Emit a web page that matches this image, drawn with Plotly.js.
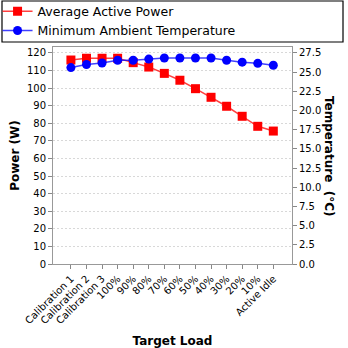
<!DOCTYPE html>
<html>
<head>
<meta charset="utf-8">
<script src="https://cdn.plot.ly/plotly-3.0.1.min.js"></script>
<style>html,body{margin:0;padding:0;background:#fff;}#chart{width:348px;height:348px;}</style>
</head>
<body>
<div id="chart"></div>
<script>
const categories = ["Calibration 1","Calibration 2","Calibration 3","100%","90%","80%","70%","60%","50%","40%","30%","20%","10%","Active Idle"];
const averageActivePower = [116.0,117.0,117.0,117.0,114.5,112.0,108.4,104.5,99.7,94.8,89.7,84.0,78.3,75.6];
const minimumAmbientTemperature = [25.6,26.0,26.2,26.55,26.55,26.7,26.85,26.85,26.85,26.85,26.55,26.3,26.15,25.9];

const font = "DejaVu Sans, sans-serif";
const traces = [
  {x: categories, y: averageActivePower, name: "Average Active Power", type: "scatter", mode: "lines+markers",
   line: {color: "rgba(255,0,0,0.75)", width: 1.5}, marker: {symbol: "square", size: 9, color: "#ff0000"}, yaxis: "y"},
  {x: categories, y: minimumAmbientTemperature, name: "Minimum Ambient Temperature", type: "scatter", mode: "lines+markers",
   line: {color: "rgba(0,0,255,0.75)", width: 1.5}, marker: {symbol: "circle", size: 9, color: "#0000ff"}, yaxis: "y2"}
];

const layout = {
  width: 348, height: 348,
  margin: {l: 53, r: 56, t: 47, b: 84, autoexpand: false},
  paper_bgcolor: "#fff", plot_bgcolor: "#fff",
  font: {family: font, size: 10, color: "#000"},
  showlegend: true,
  legend: {x: -0.232, xanchor: "left", y: 1.232, yanchor: "top", orientation: "v",
           font: {family: font, size: 12.5, color: "#000"}, bgcolor: "rgba(0,0,0,0)", borderwidth: 0,
           tracegroupgap: 0, itemwidth: 30},
  xaxis: {type: "category", range: [-1.15, 14.2], tickangle: -45, ticks: "outside", ticklen: 4, tickcolor: "#888",
          showline: true, linecolor: "#999", mirror: true, showgrid: false, zeroline: false, automargin: false,
          tickfont: {family: font, size: 10},
          title: {text: "Target Load", font: {family: font, size: 12, weight: "bold"}, standoff: 15}},
  yaxis: {range: [0, 123.4], dtick: 10, ticks: "outside", ticklen: 4, tickcolor: "#888", automargin: false,
          showline: true, linecolor: "#999", showgrid: true, gridcolor: "#d8d8d8", griddash: "2px,2px", zeroline: false,
          tickfont: {family: font, size: 10},
          title: {text: "Power (W)", font: {family: font, size: 12, weight: "bold"}, standoff: 4}},
  yaxis2: {overlaying: "y", side: "right", range: [0, 28.28], dtick: 2.5, tickformat: ".1f", ticks: "outside", ticklen: 4, tickcolor: "#888",
           showline: true, linecolor: "#999", showgrid: false, zeroline: false, automargin: false,
           tickfont: {family: font, size: 10}},
  shapes: [{type: "rect", xref: "paper", yref: "paper", x0: -0.2134, x1: 1.2134, y0: 1.023, y1: 1.212,
            line: {color: "#000", width: 1.2}, fillcolor: "rgba(0,0,0,0)"}],
  annotations: [{text: "Temperature\u00a0\u00a0(°C)", xref: "paper", yref: "paper", x: 1.157, y: 0.5, showarrow: false,
                 textangle: 90, font: {family: font, size: 12, weight: "bold"}, xanchor: "center", yanchor: "middle"}]
};

Plotly.newPlot("chart", traces, layout, {displayModeBar: false, staticPlot: true});
</script>
</body>
</html>
